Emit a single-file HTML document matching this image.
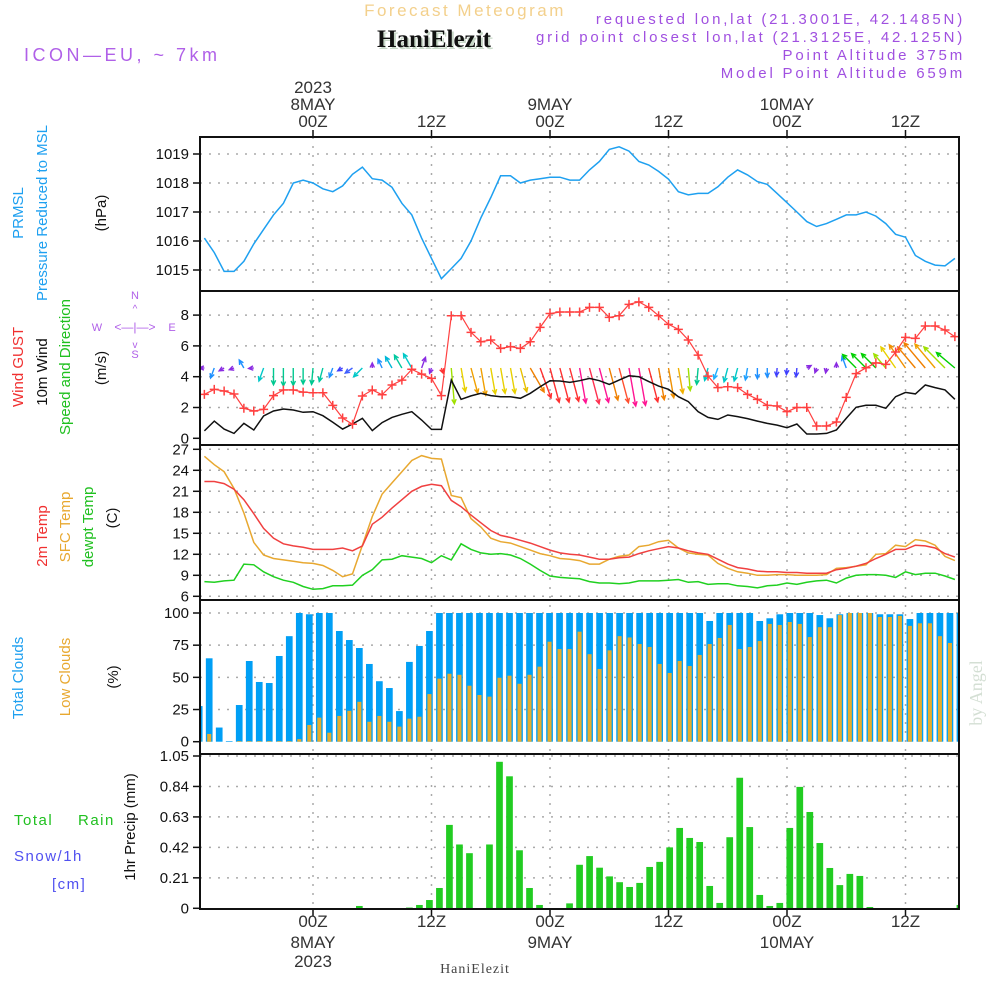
<!DOCTYPE html>
<html><head><meta charset="utf-8"><title>Forecast Meteogram HaniElezit</title>
<style>
html,body{margin:0;padding:0;background:#fff;}
svg{display:block;font-family:"Liberation Sans",sans-serif;}
.tk{font-size:15px;fill:#111;text-anchor:end;}
.tl{font-size:17px;fill:#333;text-anchor:middle;}
.hdr{font-size:15px;fill:#a050e0;text-anchor:end;letter-spacing:2.8px;}
.lab{font-size:15px;text-anchor:middle;}
</style></head>
<body>
<svg id="chart" width="1000" height="1000" viewBox="0 0 1000 1000" xmlns="http://www.w3.org/2000/svg">
<defs>
<clipPath id="clipPlot"><rect x="200" y="137" width="759" height="772"/></clipPath>
</defs>
<text x="465" y="16" font-size="17" fill="#f3d08c" text-anchor="middle" letter-spacing="2.5">Forecast Meteogram</text>
<text x="436" y="49" font-family="Liberation Serif,serif" font-weight="bold" font-size="25" fill="#c8d8c8" text-anchor="middle">HaniElezit</text>
<text x="434" y="47" font-family="Liberation Serif,serif" font-weight="bold" font-size="25" fill="#111" text-anchor="middle">HaniElezit</text>
<text x="24" y="61" font-size="18" fill="#b060e8" letter-spacing="3.5">ICON—EU, ~ 7km</text>
<text class="hdr" x="965" y="24">requested lon,lat (21.3001E, 42.1485N)</text>
<text class="hdr" x="965" y="42">grid point closest lon,lat (21.3125E, 42.125N)</text>
<text class="hdr" x="965" y="60">Point Altitude 375m</text>
<text class="hdr" x="965" y="78">Model Point Altitude 659m</text>

<g id="grid"></g>
<g id="marks" clip-path="url(#clipPlot)"></g>
<g id="frames"></g>
<g id="axes"></g>

<g>
<text class="lab" transform="translate(23,213) rotate(-90)" fill="#1ea0f0">PRMSL</text>
<text class="lab" transform="translate(47,213) rotate(-90)" fill="#1ea0f0">Pressure Reduced to MSL</text>
<text class="lab" transform="translate(106,213) rotate(-90)" fill="#111">(hPa)</text>
</g>
<g>
<text class="lab" transform="translate(23,367) rotate(-90)" fill="#f03030">Wind GUST</text>
<text class="lab" transform="translate(47,372) rotate(-90)" fill="#111">10m Wind</text>
<text class="lab" transform="translate(70,367) rotate(-90)" fill="#20c020">Speed and Direction</text>
<text class="lab" transform="translate(106,368) rotate(-90)" fill="#111">(m/s)</text>
<g fill="#b060e8" font-size="11" text-anchor="middle">
<text x="135" y="299">N</text><text x="135" y="358">S</text><text x="97" y="331">W</text><text x="172" y="331">E</text>
<text x="135" y="331" font-size="12">&lt;—|—&gt;</text>
<text x="135" y="312" font-size="10">^</text><text x="135" y="348" font-size="10">v</text>
</g>
</g>
<g>
<text class="lab" transform="translate(47,536) rotate(-90)" fill="#f03030">2m Temp</text>
<text class="lab" transform="translate(70,527) rotate(-90)" fill="#e8a830">SFC Temp</text>
<text class="lab" transform="translate(93,527) rotate(-90)" fill="#20c020">dewpt Temp</text>
<text class="lab" transform="translate(117,518) rotate(-90)" fill="#111">(C)</text>
</g>
<g>
<text class="lab" transform="translate(23,678) rotate(-90)" fill="#1ea0f0">Total Clouds</text>
<text class="lab" transform="translate(70,677) rotate(-90)" fill="#e8a830">Low Clouds</text>
<text class="lab" transform="translate(118,677) rotate(-90)" fill="#111">(%)</text>
</g>
<g>
<text x="14" y="825" font-size="15" fill="#20c020" letter-spacing="1.5">Total</text>
<text x="78" y="825" font-size="15" fill="#20c020" letter-spacing="1.5">Rain</text>
<text x="14" y="861" font-size="15" fill="#5050f0" letter-spacing="1.5">Snow/1h</text>
<text x="52" y="889" font-size="15" fill="#5050f0" letter-spacing="1.5">[cm]</text>
<text class="lab" transform="translate(135,827) rotate(-90)" fill="#111">1hr Precip (mm)</text>
</g>
<text x="475" y="973" font-family="Liberation Serif,serif" font-size="14" fill="#444" text-anchor="middle" letter-spacing="1">HaniElezit</text>
<text transform="translate(982,693) rotate(-90)" font-family="Liberation Serif,serif" font-size="18" fill="#d4dfd4" text-anchor="middle">by Angel</text>
</svg>
<script>
const startHour = -11;
const pressure = [1016.1,1015.6,1014.95,1014.95,1015.3,1015.9,1016.4,1016.9,1017.3,1018.0,1018.1,
1018.0,1017.8,1017.7,1017.9,1018.3,1018.55,1018.15,1018.1,1017.85,1017.3,1016.9,1016.1,
1015.4,1014.7,1015.05,1015.4,1016.0,1016.8,1017.5,1018.25,1018.25,1018.0,1018.1,1018.15,
1018.2,1018.2,1018.1,1018.1,1018.45,1018.74,1019.16,1019.25,1019.1,1018.74,1018.62,1018.4,
1018.13,1017.7,1017.59,1017.64,1017.64,1017.87,1018.2,1018.45,1018.28,1018.05,1017.95,1017.64,
1017.32,1017.0,1016.67,1016.5,1016.6,1016.75,1016.9,1016.9,1017.0,1016.86,1016.6,1016.23,
1016.13,1015.5,1015.3,1015.17,1015.14,1015.4];
const windGust = [2.85,3.18,3.07,2.88,1.95,1.77,1.88,2.77,3.14,3.14,3.0,
2.96,2.96,2.14,1.32,0.91,2.75,3.14,2.83,3.46,3.78,4.48,4.17,
3.89,2.77,7.96,7.96,6.88,6.27,6.38,5.84,5.95,5.84,6.27,7.2,
8.1,8.2,8.2,8.2,8.5,8.5,7.85,7.96,8.7,8.86,8.5,7.96,
7.4,7.07,6.38,5.4,4.04,3.29,3.35,3.29,2.85,2.53,2.14,2.1,
1.73,2.0,2.0,0.8,0.8,1.06,2.66,4.2,4.58,4.9,4.8,5.6,
6.55,6.49,7.29,7.29,7.03,6.6];
const wind10m = [0.48,1.12,0.6,0.32,0.97,0.54,1.45,1.77,1.9,1.84,1.69,
1.73,1.47,1.04,0.6,0.93,1.3,0.5,1.02,1.36,1.56,1.73,1.19,
0.58,0.58,3.78,2.53,2.75,2.92,2.77,2.7,2.7,2.6,2.92,3.35,
3.74,3.72,3.63,3.74,3.89,3.74,3.5,3.78,4.06,4.0,3.68,3.39,
3.18,2.7,2.38,1.73,1.36,1.23,1.51,1.41,1.28,1.12,0.97,0.86,
0.69,0.93,0.28,0.28,0.32,0.54,1.3,2.01,2.14,2.14,1.95,2.7,
2.98,2.88,3.46,3.29,3.14,2.53];
const windDir = [270,200,240,250,330,265,200,180,180,180,180,
185,195,200,240,235,225,0,335,330,330,330,20,
200,160,175,170,165,170,170,170,170,165,150,160,
165,165,165,170,165,165,165,165,170,170,165,170,
170,170,175,185,195,200,195,195,190,180,180,185,
185,185,60,200,190,0,340,315,315,315,320,325,
325,320,320,320,315,310];
const windColor = ["#8a2be2","#1e90ff","#8a2be2","#8a2be2","#1e90ff","#8a2be2","#00c8c8","#00c890","#00c890","#00c890","#00c890",
"#00c890","#00c8a0","#1e90ff","#4040ff","#4060ff","#00c8c8","#8a2be2","#1e90ff","#00b8d8","#00c8a0","#00c8c8","#8a2be2",
"#8a2be2","#ff3030","#a0e000","#e8d000","#f0a000","#f0a000","#e8d000","#e8d000","#e8d000","#e8c000","#f08000","#ff3030",
"#ff3030","#ff3030","#ff3030","#ff1493","#ff3050","#ff1493","#f08000","#ff5030","#ff1493","#ff1493","#ff3030","#f08000",
"#f09000","#f0b000","#a0e000","#00c890","#00c8c8","#1eb0ff","#00c8c8","#00c8c8","#1ea0ff","#1e90ff","#1e90ff","#4040ff",
"#4040ff","#4040ff","#8a2be2","#8a2be2","#8a2be2","#8a2be2","#1e90ff","#00d000","#00d000","#00d000","#a0e000","#e8d000",
"#f09000","#f08000","#f08000","#f0a000","#a0e000","#00d000"];
const temp2m = [22.4,22.4,22.1,21.3,19.8,17.8,15.7,14.3,13.5,13.2,13.0,
12.7,12.7,12.7,12.9,12.5,13.2,16.3,17.3,18.6,19.8,21.0,21.7,
22.0,21.8,19.7,18.8,17.6,16.5,15.4,14.7,14.4,14.0,13.6,13.1,
12.6,12.2,12.0,11.9,11.6,11.3,11.3,11.5,11.6,12.1,12.5,12.8,
13.1,12.9,12.5,12.2,12.0,11.3,10.6,10.1,9.9,9.6,9.5,9.5,
9.4,9.4,9.3,9.3,9.3,9.8,10.0,10.3,10.7,11.4,12.0,12.7,
12.7,13.3,13.2,12.9,12.1,11.6];
const tempSfc = [26.0,24.8,23.8,21.4,17.9,13.7,11.9,11.4,11.2,11.0,10.8,
10.7,10.4,9.7,8.8,9.2,13.3,17.4,20.6,22.2,23.8,25.4,26.1,
25.7,25.6,20.4,20.1,17.1,15.9,14.3,13.8,13.6,13.1,12.6,12.1,
11.8,11.4,11.3,11.1,10.6,10.6,11.3,11.7,11.9,13.1,13.3,13.8,
14.0,12.9,12.2,12.0,11.9,10.7,10.0,9.5,9.3,9.0,9.0,9.1,
9.1,9.0,9.0,9.0,9.1,10.0,10.1,10.3,10.5,12.0,12.1,13.3,
13.1,14.1,13.9,13.3,11.7,11.1];
const dewpoint = [8.1,8.0,8.2,8.3,10.6,10.5,9.5,8.8,8.3,8.0,7.4,
7.0,7.1,7.5,7.5,7.6,9.0,9.8,11.2,11.3,11.8,11.6,11.4,
10.8,11.8,11.2,13.5,12.7,12.2,12.0,12.1,11.9,11.4,10.6,9.7,
8.9,8.7,8.6,8.5,8.1,7.9,7.9,7.8,7.9,8.2,8.2,8.2,
8.3,8.4,8.0,8.1,7.7,7.8,7.8,7.5,7.4,7.2,7.5,7.6,
7.9,7.7,8.0,8.2,8.3,7.9,8.6,9.0,9.1,9.1,9.0,8.7,
9.5,9.1,9.3,9.3,8.9,8.4];
const totalClouds = [27.7,64.8,11,0.5,28.5,62.7,46.4,45.6,66.6,82,100,
99,100,100,86,79,72.8,60.4,47,41.7,23.8,62,74.4,
86,100,100,100,100,100,100,100,100,100,100,100,
100,100,100,100,100,100,100,100,100,100,100,100,
100,100,100,100,93.8,100,100,100,100,93.8,95.9,99,
100,100,100,98.4,95.9,99,100,100,100,99,99,99,
95.3,100,100,100,100,100];
const lowClouds = [3,6,0,0,0.5,0.5,0.5,0.5,0.5,0.5,2,
13,18.7,7,20,24,31,15.5,20,15.5,11.7,17.9,19.4,
37,49,52.8,52,43.5,36.3,35,49.7,51.3,45,52,58.3,
77.7,72,72,85.5,68,56.5,71,82,81,75.9,73.6,60.4,
53.4,62.7,58.8,67.4,75.9,80.6,90.7,72,73.6,78.2,91.5,90.7,
93,91.5,81.3,89,89,98.4,100,100,100,96.9,96.9,97.7,
90,92,92,82,76.7,79];
const precip = [0,0,0,0,0,0,0,0,0,0,0,
0,0,0,0,0,0.016,0,0,0,0,0.005,0.023,
0.057,0.14,0.575,0.44,0.38,0,0.44,1.01,0.91,0.40,0.14,0.023,
0,0,0.034,0.30,0.36,0.28,0.22,0.18,0.147,0.175,0.285,0.32,
0.42,0.554,0.485,0.457,0.154,0.037,0.49,0.9,0.56,0.092,0.016,0.037,
0.554,0.837,0.664,0.45,0.278,0.16,0.237,0.223,0.009,0,0,0,
0,0,0,0,0,0.023];
const pressureTicks = [1015,1016,1017,1018,1019];
const windTicks = [0,2,4,6,8];
const tempTicks = [6,9,12,15,18,21,24,27];
const cloudTicks = [0,25,50,75,100];
const precipTicks = [0,0.21,0.42,0.63,0.84,1.05];
const precipTickLabels = ["0","0.21","0.42","0.63","0.84","1.05"];
const timeTickHours = [0,12,24,36,48,60];
const timeTickLabels = ["00Z","12Z","00Z","12Z","00Z","12Z"];
const dayLabels = ["8MAY","","9MAY","","10MAY",""];

const NS = "http://www.w3.org/2000/svg";
const xL = h => 313 + 9.875 * h;
const xB = h => 309.3 + 10.01 * h;
const yP = p => 154 + (1019 - p) * 29;
const yW = v => 438.3 - v * 15.4;
const yT = t => 638.3 - 7 * t;
const yC = c => 741.7 - 1.287 * c;
const yR = r => 908.3 - r * 145.05;
const panels = [[137,291],[291,445],[445,600],[600,754],[754,909]];
const X0 = 200, X1 = 959;
function mk(tag, parent){ const e = document.createElementNS(NS, tag); parent.appendChild(e); return e; }
const gGrid = document.getElementById('grid');
const gMarks = document.getElementById('marks');
const gFrames = document.getElementById('frames');
const gAxes = document.getElementById('axes');

function hGrid(y){
  const l = mk('line', gGrid);
  
  
  l.setAttribute('x1', X0); l.setAttribute('x2', X1); l.setAttribute('y1', y); l.setAttribute('y2', y);
  l.setAttribute('stroke', '#aaa'); l.setAttribute('stroke-width', '1.5'); l.setAttribute('stroke-dasharray', '2 7');
}
function yTick(y, label){
  const t = mk('line', gAxes);
  
  
  t.setAttribute('x1', 193); t.setAttribute('x2', 200); t.setAttribute('y1', y); t.setAttribute('y2', y);
  t.setAttribute('stroke', '#111'); t.setAttribute('stroke-width', '1.5');
  const tx = mk('text', gAxes);
  
  
  tx.setAttribute('class', 'tk'); tx.setAttribute('x', 189); tx.setAttribute('y', y + 5);
  tx.textContent = label;
}
pressureTicks.forEach(v => { hGrid(yP(v)); yTick(yP(v), String(v)); });
windTicks.forEach(v => { if (v > 0) hGrid(yW(v)); yTick(yW(v), String(v)); });
tempTicks.forEach(v => { hGrid(yT(v)); yTick(yT(v), String(v)); });
cloudTicks.forEach(v => { if (v > 0) hGrid(yC(v)); yTick(yC(v), String(v)); });
precipTicks.forEach((v, i) => { if (v > 0) hGrid(yR(v)); yTick(yR(v), precipTickLabels[i]); });

timeTickHours.forEach((h, i) => {
  const x = xL(h);
  const v = mk('line', gGrid);
  
  
  v.setAttribute('x1', x); v.setAttribute('x2', x); v.setAttribute('y1', 137); v.setAttribute('y2', 909);
  v.setAttribute('stroke', '#aaa'); v.setAttribute('stroke-width', '1.5'); v.setAttribute('stroke-dasharray', '2 7');
  [[130,137],[909,916]].forEach(p => {
    const t = mk('line', gAxes);
    
    
    t.setAttribute('x1', x); t.setAttribute('x2', x); t.setAttribute('y1', p[0]); t.setAttribute('y2', p[1]);
    t.setAttribute('stroke', '#111'); t.setAttribute('stroke-width', '1.5');
  });
  const top = mk('text', gAxes);
  
  
  top.setAttribute('class', 'tl'); top.setAttribute('x', x); top.setAttribute('y', 127);
  top.textContent = timeTickLabels[i];
  const bot = mk('text', gAxes);
  
  
  bot.setAttribute('class', 'tl'); bot.setAttribute('x', x); bot.setAttribute('y', 927);
  bot.textContent = timeTickLabels[i];
  if (dayLabels[i]) {
    const d1 = mk('text', gAxes);
    
    
    d1.setAttribute('class', 'tl'); d1.setAttribute('x', x); d1.setAttribute('y', 110);
    d1.textContent = dayLabels[i];
    const d2 = mk('text', gAxes);
    
    
    d2.setAttribute('class', 'tl'); d2.setAttribute('x', x); d2.setAttribute('y', 948);
    d2.textContent = dayLabels[i];
  }
  if (i === 0) {
    const y1 = mk('text', gAxes);
    
    
    y1.setAttribute('class', 'tl'); y1.setAttribute('x', x); y1.setAttribute('y', 93);
    y1.textContent = '2023';
    const y2 = mk('text', gAxes);
    
    
    y2.setAttribute('class', 'tl'); y2.setAttribute('x', x); y2.setAttribute('y', 967);
    y2.textContent = '2023';
  }
});

function line(arr, yf, color, name, w){
  const pts = arr.map((v, i) => xL(startHour + i).toFixed(1) + ',' + yf(v).toFixed(1)).join(' ');
  const p = mk('polyline', gMarks);
  
  
  p.setAttribute('points', pts); p.setAttribute('fill', 'none');
  p.setAttribute('stroke', color); p.setAttribute('stroke-width', w || 1.5);
  return p;
}
function bars(arr, yf, color, width, name){
  arr.forEach((v, i) => {
    const x = xB(startHour + i);
    const r = mk('rect', gMarks);
    
    
    const y = yf(v), y0 = yf(0);
    r.setAttribute('x', x - width / 2); r.setAttribute('width', width);
    r.setAttribute('y', y); r.setAttribute('height', Math.max(0, y0 - y));
    r.setAttribute('fill', color);
  });
}
bars(totalClouds, yC, '#009ff5', 6.7, 'total-cloud-bar');
bars(lowClouds, yC, '#e6ad2c', 4, 'low-cloud-bar');
bars(precip, yR, '#22cc22', 6.7, 'precip-bar');
line(pressure, yP, '#1ea0f0', 'pressure-line');
windDir.forEach((a, i) => {
  const x = xL(startHour + i), y = 368;
  const L = Math.max(5, 9.5 * wind10m[i]);
  const r = a * Math.PI / 180;
  const tx = x + L * Math.sin(r), ty = y - L * Math.cos(r);
  const hx1 = tx - 5 * Math.sin(r - 0.45), hy1 = ty + 5 * Math.cos(r - 0.45);
  const hx2 = tx - 5 * Math.sin(r + 0.45), hy2 = ty + 5 * Math.cos(r + 0.45);
  const p = mk('path', gMarks);
  
  
  p.setAttribute('d', `M${x},${y}L${tx},${ty}M${hx1},${hy1}L${tx},${ty}L${hx2},${hy2}`);
  p.setAttribute('stroke', windColor[i]); p.setAttribute('stroke-width', '1.4'); p.setAttribute('fill', 'none');
});
line(wind10m, yW, '#111', 'wind-10m-line');
line(windGust, yW, '#ff4040', 'wind-gust-line', 1.2);
windGust.forEach((v, i) => {
  const x = xL(startHour + i), y = yW(v);
  const m = mk('path', gMarks);
  
  
  m.setAttribute('d', `M${x-4.5},${y}H${x+4.5}M${x},${y-4.5}V${y+4.5}`);
  m.setAttribute('stroke', '#ff4040'); m.setAttribute('stroke-width', '1.5');
});
line(tempSfc, yT, '#e8a830', 'sfc-temp-line');
line(temp2m, yT, '#f04040', 'temp-2m-line');
line(dewpoint, yT, '#20d020', 'dewpoint-line');

panels.forEach(p => {
  const r = mk('rect', gFrames);
  
  
  r.setAttribute('x', X0); r.setAttribute('y', p[0]); r.setAttribute('width', X1 - X0); r.setAttribute('height', p[1] - p[0]);
  r.setAttribute('fill', 'none'); r.setAttribute('stroke', '#111'); r.setAttribute('stroke-width', '2');
});
</script>
</body></html>
